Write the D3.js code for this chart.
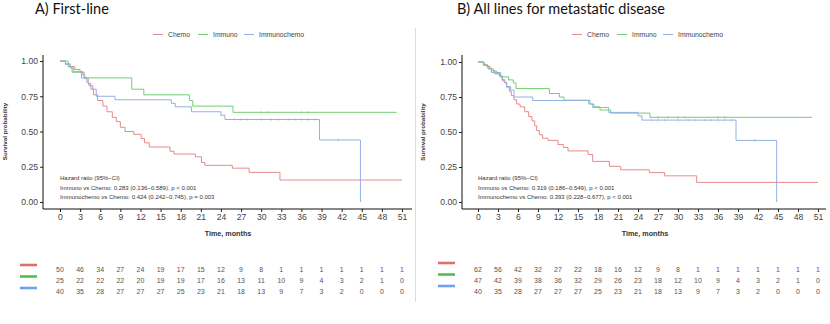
<!DOCTYPE html>
<html><head><meta charset="utf-8">
<script src="https://cdn.jsdelivr.net/npm/d3@7"></script>
<style>body{margin:0;background:#fff}svg{display:block}</style>
</head><body><svg id="c" width="830" height="324"></svg>
<script>
// ---------- DATA ----------
const seriesNames = ["Chemo", "Immuno", "Immunochemo"];
const xTicks = d3.range(0, 52, 3);
const yTicks = [0, 0.25, 0.5, 0.75, 1];
const titles = ["A) First-line", "B) All lines for metastatic disease"];

// Panel A (first-line)
const chemoA_t = [0, 0.8, 1.5, 2.2, 3.0, 3.6, 4.2, 4.6, 5.0, 5.6, 6.4, 7.0, 7.8, 8.4, 9.0, 9.7, 11.0, 12.1, 12.6, 13.3, 16.4, 17.0, 20.2, 21.1, 21.6, 25.7, 28.2, 32.8];
const chemoA_s = [1, 0.98, 0.96, 0.94, 0.92, 0.88, 0.84, 0.80, 0.76, 0.72, 0.68, 0.64, 0.60, 0.57, 0.53, 0.50, 0.48, 0.45, 0.42, 0.39, 0.36, 0.34, 0.32, 0.28, 0.26, 0.24, 0.21, 0.156];
const chemoA_end = 51;
const chemoA_cens = [];

const immunoA_t = [0, 1.2, 1.8, 3.2, 10.7, 12.5, 19.3, 19.8, 25.8];
const immunoA_s = [1, 0.96, 0.92, 0.88, 0.80, 0.76, 0.72, 0.68, 0.636];
const immunoA_end = 50.2;
const immunoA_cens = [30, 31, 36, 37];

const icA_t = [0, 0.8, 1.5, 2.0, 3.4, 3.7, 4.0, 4.3, 4.9, 5.4, 8.2, 16.6, 17.2, 19.6, 24.0, 24.6, 38.7, 44.8];
const icA_s = [1, 0.975, 0.95, 0.925, 0.90, 0.875, 0.85, 0.825, 0.80, 0.75, 0.725, 0.70, 0.675, 0.64, 0.615, 0.585, 0.44, 0];
const icA_end = 44.8;
const icA_cens = [26, 27, 28, 30, 31.5, 32.5, 34, 35, 36, 37, 38, 41.5];

const riskA_chemo  = [50, 46, 34, 27, 24, 19, 17, 15, 12, 9, 8, 1, 1, 1, 1, 1, 1, 1];
const riskA_immuno = [25, 22, 22, 22, 20, 19, 19, 17, 16, 13, 11, 10, 9, 4, 3, 2, 1, 0];
const riskA_ic     = [40, 35, 28, 27, 27, 27, 25, 23, 21, 18, 13, 9, 7, 3, 2, 0, 0, 0];

const hrA = ["Hazard ratio (95%\u2212CI)",
             "Immuno vs Chemo: 0.283 (0.136\u22120.589), p < 0.001",
             "Immunochemo vs Chemo: 0.424 (0.242\u22120.745), p = 0.003"];

// Panel B (all lines for metastatic disease)
const chemoB_t = [0, 0.8, 1.3, 1.8, 2.3, 2.8, 3.2, 3.6, 3.9, 4.3, 4.7, 5.0, 5.4, 5.8, 6.3, 7.0, 7.6, 8.1, 8.5, 8.8, 9.2, 9.7, 10.5, 12.0, 12.8, 13.5, 16.5, 17.2, 19.7, 21.4, 25.7, 28.0, 32.8];
const chemoB_s = [1, 0.984, 0.968, 0.952, 0.935, 0.919, 0.90, 0.87, 0.855, 0.82, 0.79, 0.76, 0.73, 0.70, 0.68, 0.645, 0.61, 0.58, 0.545, 0.51, 0.48, 0.455, 0.44, 0.41, 0.39, 0.365, 0.34, 0.29, 0.255, 0.23, 0.21, 0.187, 0.14];
const chemoB_end = 51;
const chemoB_cens = [];

const immunoB_t = [0, 0.9, 1.5, 2.0, 2.5, 3.3, 4.6, 5.3, 5.7, 10.7, 12.2, 12.9, 16.8, 17.4, 18.3, 19.9, 25.8];
const immunoB_s = [1, 0.979, 0.957, 0.936, 0.915, 0.894, 0.872, 0.85, 0.81, 0.775, 0.75, 0.727, 0.70, 0.68, 0.657, 0.635, 0.605];
const immunoB_end = 50.1;
const immunoB_cens = [27, 28.5, 30, 31, 36, 37];

const icB_t = icA_t, icB_s = icA_s, icB_end = icA_end, icB_cens = icA_cens;

const riskB_chemo  = [62, 56, 42, 32, 27, 22, 18, 16, 12, 9, 8, 1, 1, 1, 1, 1, 1, 1];
const riskB_immuno = [47, 42, 39, 38, 36, 32, 29, 26, 23, 18, 12, 10, 9, 4, 3, 2, 1, 0];
const riskB_ic     = [40, 35, 28, 27, 27, 27, 25, 23, 21, 18, 13, 9, 7, 3, 2, 0, 0, 0];

const hrB = ["Hazard ratio (95%\u2212CI)",
             "Immuno vs Chemo: 0.319 (0.186\u22120.549), p < 0.001",
             "Immunochemo vs Chemo: 0.393 (0.228\u22120.677), p < 0.001"];

// ---------- STYLE ----------
const lineColors = ["#e8898b", "#72cf72", "#90b2e2"];
const barColors  = ["#e36c6c", "#4cc24c", "#70a0ea"];
const FONT = "'Liberation Sans', Arial, sans-serif";

const panels = [
  { title: titles[0], tx: 35, left: 43, right: 412, top: 55, bottom: 209, x0: 60, x1: 402, y0: 202, y1: 61,
    ylabX: 7, timeX: 228, legX: 153, barX: 20, barY: 265, riskY: 269, hr: hrA,
    series: [[chemoA_t, chemoA_s, chemoA_end, chemoA_cens], [immunoA_t, immunoA_s, immunoA_end, immunoA_cens], [icA_t, icA_s, icA_end, icA_cens]],
    risk: [riskA_chemo, riskA_immuno, riskA_ic] },
  { title: titles[1], tx: 457, left: 462, right: 826, top: 55, bottom: 209, x0: 478, x1: 818, y0: 202, y1: 62,
    ylabX: 425, timeX: 645, legX: 572, barX: 438, barY: 263, riskY: 269, hr: hrB,
    series: [[chemoB_t, chemoB_s, chemoB_end, chemoB_cens], [immunoB_t, immunoB_s, immunoB_end, immunoB_cens], [icB_t, icB_s, icB_end, icB_cens]],
    risk: [riskB_chemo, riskB_immuno, riskB_ic] }
];

const svg = d3.select("#c");

// divider
svg.append("line").attr("x1", 415.5).attr("x2", 415.5).attr("y1", 28).attr("y2", 302)
  .attr("stroke", "#dcdcdc").attr("stroke-width", 1);

function stepAt(t, ts, ss) {
  let v = ss[0];
  for (let i = 0; i < ts.length; i++) if (ts[i] <= t) v = ss[i];
  return v;
}

panels.forEach(p => {
  const g = svg.append("g");
  const x = d3.scaleLinear().domain([0, 51]).range([p.x0, p.x1]);
  const y = d3.scaleLinear().domain([0, 1]).range([p.y0, p.y1]);

  // title
  g.append("text").attr("x", p.tx).attr("y", 14).text(p.title)
    .attr("font-family", "Lato, 'Open Sans', sans-serif").attr("font-size", 14.5).attr("fill", "#111");

  // legend
  const legW = [0, 45, 91];
  seriesNames.forEach((n, i) => {
    const lx = p.legX + legW[i];
    g.append("line").attr("x1", lx).attr("x2", lx + 10).attr("y1", 34.5).attr("y2", 34.5)
      .attr("stroke", lineColors[i]).attr("stroke-width", 1);
    g.append("text").attr("x", lx + 15).attr("y", 37).text(n)
      .attr("font-family", FONT).attr("font-size", 6.8).attr("fill", "#444");
  });

  // axes
  const xa = g.append("g").attr("transform", `translate(0,${p.bottom})`)
    .call(d3.axisBottom(x).tickValues(xTicks).tickSize(3).tickPadding(2));
  const ya = g.append("g").attr("transform", `translate(${p.left},0)`)
    .call(d3.axisLeft(y).tickValues(yTicks).tickFormat(d3.format(".2f")).tickSize(3).tickPadding(2));
  [xa, ya].forEach(a => {
    a.select(".domain").remove();
    a.selectAll(".tick line").attr("stroke", "#222");
    a.selectAll(".tick text").attr("font-family", FONT).attr("font-size", 8.6).attr("fill", "#444");
  });
  g.append("line").attr("x1", p.left).attr("x2", p.right).attr("y1", p.bottom).attr("y2", p.bottom)
    .attr("stroke", "#111").attr("stroke-width", 1);
  g.append("line").attr("x1", p.left).attr("x2", p.left).attr("y1", p.top).attr("y2", p.bottom)
    .attr("stroke", "#111").attr("stroke-width", 1);

  // axis titles
  g.append("text").attr("transform", `translate(${p.ylabX},${(p.y0 + p.y1) / 2}) rotate(-90)`)
    .attr("text-anchor", "middle").text("Survival probability")
    .attr("font-family", FONT).attr("font-size", 6.2).attr("font-weight", "bold").attr("fill", "#333");
  g.append("text").attr("x", p.timeX).attr("y", 236).attr("text-anchor", "middle").text("Time, months")
    .attr("font-family", FONT).attr("font-size", 7.2).attr("font-weight", "bold").attr("fill", "#333");

  // curves
  const line = d3.line().x(d => x(d[0])).y(d => y(d[1])).curve(d3.curveStepAfter);
  p.series.forEach(([ts, ss, end, cens], i) => {
    const pts = ts.map((t, k) => [t, ss[k]]);
    pts.push([end, ss[ss.length - 1]]);
    g.append("path").attr("d", line(pts)).attr("fill", "none")
      .attr("stroke", lineColors[i]).attr("stroke-width", 1);
    cens.forEach(c => {
      const cy = y(stepAt(c, ts, ss));
      g.append("line").attr("x1", x(c)).attr("x2", x(c)).attr("y1", cy - 1.3).attr("y2", cy + 1.3)
        .attr("stroke", lineColors[i]).attr("stroke-width", 0.7).attr("opacity", 0.8);
    });
  });

  // hazard ratio annotation
  p.hr.forEach((s, k) => {
    g.append("text").attr("x", p.x0).attr("y", 180 + k * 9.5).text(s)
      .attr("font-family", FONT).attr("font-size", 6).attr("fill", "#333");
  });

  // risk table
  p.risk.forEach((row, i) => {
    g.append("line").attr("x1", p.barX).attr("x2", p.barX + 17)
      .attr("y1", p.barY + i * 11.5).attr("y2", p.barY + i * 11.5)
      .attr("stroke", barColors[i]).attr("stroke-width", 2.6);
    row.forEach((v, k) => {
      g.append("text").attr("x", x(xTicks[k])).attr("y", p.riskY + i * 11 + 2.5)
        .attr("text-anchor", "middle").text(v)
        .attr("font-family", FONT).attr("font-size", 7).attr("fill", "#555");
    });
  });
});
</script></body></html>
